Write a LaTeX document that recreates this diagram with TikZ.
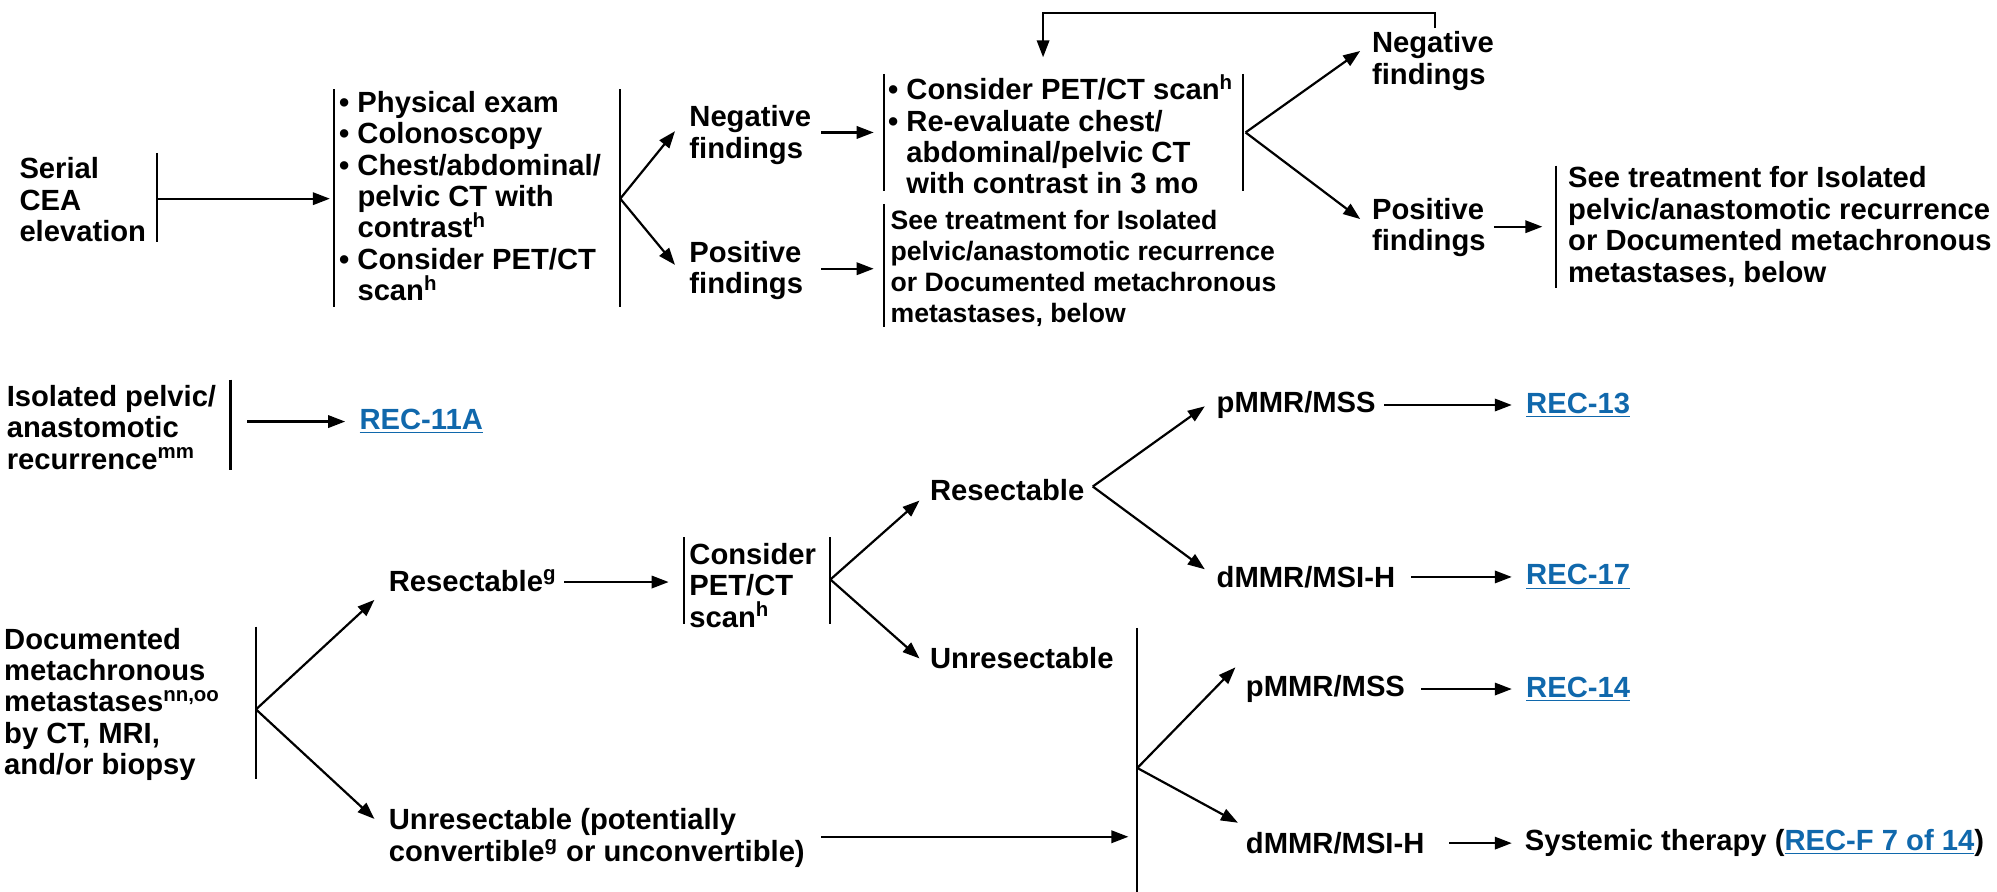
\documentclass[tikz,border=0pt]{standalone}
\usepackage{fontspec}
\setmainfont{Liberation Sans}
\usetikzlibrary{arrows.meta}
\definecolor{linkblue}{RGB}{16,104,172}
\newcommand{\lnk}[1]{\textcolor{linkblue}{\underline{#1}}}
\newcommand{\ind}{\hphantom{•\ }}
\begin{document}
\begin{tikzpicture}[x=0.6368pt,y=-0.6368pt,
  txt/.style={inner sep=0pt,anchor=west,align=left,font=\fontsize{14.6}{15.7}\selectfont\bfseries},
  smalltxt/.style={txt,font=\fontsize{13.3}{15.5}\selectfont\bfseries},
  arr/.style={-{Triangle[length=8.5pt,width=6.2pt]},line width=1.1pt},
  vbar/.style={line width=1.1pt}]
\useasboundingbox (0,0) rectangle (1568,700);

% ---------- top section ----------
\node[txt] (serial) at (15,157) {Serial\\CEA\\elevation};
\draw[vbar] (123,120) -- (123,190);
\coordinate (serialbar) at (123,156);
\coordinate (box1in) at (259,156);
\draw[arr] (serialbar) -- (box1in);

\node[txt] (box1) at (266,154) {• Physical exam\\• Colonoscopy\\• Chest/abdominal/\\\ind pelvic CT with\\\ind contrast\textsuperscript{h}\\• Consider PET/CT\\\ind scan\textsuperscript{h}};
\draw[vbar] (262,70) -- (262,241);
\draw[vbar] (487,70) -- (487,241);
\coordinate (f1) at (487,156);

\node[txt] (neg1) at (541,106) {Negative\\findings};
\node[txt] (pos1) at (541,212.5) {Positive\\findings};
\coordinate (neg1in) at (530,103);
\coordinate (pos1in) at (530,208);
\draw[arr] (f1) -- (neg1in);
\draw[arr] (f1) -- (pos1in);

\node[txt] (box2) at (697,105.5) {• Consider PET/CT scan\textsuperscript{h}\\• Re-evaluate chest/\\\ind abdominal/pelvic CT\\\ind with contrast in 3 mo};
\draw[vbar] (694,58) -- (694,150);
\draw[vbar] (976,58) -- (976,150);
\coordinate (neg1out) at (645,104);
\coordinate (box2in) at (686,104);
\draw[arr] (neg1out) -- (box2in);

\node[smalltxt] (see1) at (699,210.5) {See treatment for Isolated\\pelvic/anastomotic recurrence\\or Documented metachronous\\metastases, below};
\draw[vbar] (694,160) -- (694,257);
\coordinate (pos1out) at (645,211);
\coordinate (see1in) at (686,211);
\draw[arr] (pos1out) -- (see1in);

\coordinate (f2) at (978,104);
\node[txt] (neg2) at (1077,48) {Negative\\findings};
\node[txt] (pos2) at (1077,178.5) {Positive\\findings};
\coordinate (neg2in) at (1068,40);
\coordinate (pos2in) at (1068,172);
\draw[arr] (f2) -- (neg2in);
\draw[arr] (f2) -- (pos2in);

\coordinate (loopstart) at (1127,22);
\coordinate (box2top) at (819,45);
\draw[arr] (loopstart) -- (1127,10) -- (819,10) -- (box2top);

\node[txt] (see2) at (1231,178) {See treatment for Isolated\\pelvic/anastomotic recurrence\\or Documented metachronous\\metastases, below};
\draw[vbar] (1222,130) -- (1222,226);
\coordinate (pos2out) at (1173,178);
\coordinate (see2in) at (1211,178);
\draw[arr] (pos2out) -- (see2in);

% ---------- isolated ----------
\node[txt] (iso) at (5,335.5) {Isolated pelvic/\\anastomotic\\recurrence\textsuperscript{mm}};
\draw[vbar] (181,298) -- (181,369);
\node[txt] (rec11a) at (282,331) {\lnk{REC-11A}};
\coordinate (isoout) at (194,331);
\coordinate (rec11ain) at (271,331);
\draw[arr] (isoout) -- (rec11ain);

% ---------- documented ----------
\node[txt] (doc) at (3,553) {Documented\\metachronous\\metastases\textsuperscript{nn,oo}\\by CT, MRI,\\and/or biopsy};
\draw[vbar] (201,492) -- (201,612);
\coordinate (f3) at (201,557);
\node[txt] (res1) at (305,456) {Resectable\textsuperscript{g}};
\node[txt] (unres2) at (305,658) {Unresectable (potentially\\convertible\textsuperscript{g} or unconvertible)};
\coordinate (res1in) at (294,471);
\coordinate (unres2in) at (294,643);
\draw[arr] (f3) -- (res1in);
\draw[arr] (f3) -- (unres2in);

\node[txt] (cons) at (541,459.5) {Consider\\PET/CT\\scan\textsuperscript{h}};
\draw[vbar] (537,422) -- (537,490);
\draw[vbar] (652,422) -- (652,490);
\coordinate (res1out) at (443,457);
\coordinate (consin) at (525,457);
\draw[arr] (res1out) -- (consin);

\coordinate (f4) at (652,455);
\node[txt] (res2) at (730,385) {Resectable};
\node[txt] (unres) at (730,517) {Unresectable};
\coordinate (res2in) at (722,393);
\coordinate (unresin) at (722,517);
\draw[arr] (f4) -- (res2in);
\draw[arr] (f4) -- (unresin);

\coordinate (f5) at (858,382);
\node[txt] (p1) at (955,318) {pMMR/MSS};
\node[txt] (d1) at (955,453) {dMMR/MSI-H};
\coordinate (p1in) at (946,319);
\coordinate (d1in) at (946,447);
\draw[arr] (f5) -- (p1in);
\draw[arr] (f5) -- (d1in);

\node[txt] (rec13) at (1198,318) {\lnk{REC-13}};
\node[txt] (rec17) at (1198,453) {\lnk{REC-17}};
\coordinate (p1out) at (1087,318);
\coordinate (rec13in) at (1187,318);
\coordinate (d1out) at (1108,453);
\coordinate (rec17in) at (1187,453);
\draw[arr] (p1out) -- (rec13in);
\draw[arr] (d1out) -- (rec17in);

% big bar
\draw[vbar] (893,493) -- (893,700);
\coordinate (f6) at (893,603);
\coordinate (bigin) at (886,657);
\coordinate (unres2out) at (645,657);
\draw[arr] (unres2out) -- (bigin);

\node[txt] (p2) at (978,541) {pMMR/MSS};
\node[txt] (d2) at (978,662) {dMMR/MSI-H};
\coordinate (p2in) at (970,524);
\coordinate (d2in) at (972,646);
\draw[arr] (f6) -- (p2in);
\draw[arr] (f6) -- (d2in);

\node[txt] (rec14) at (1198,541) {\lnk{REC-14}};
\node[txt] (sys) at (1197,662) {Systemic therapy (\lnk{REC-F 7 of 14})};
\coordinate (p2out) at (1116,541);
\coordinate (rec14in) at (1187,541);
\coordinate (d2out) at (1138,662);
\coordinate (sysin) at (1187,662);
\draw[arr] (p2out) -- (rec14in);
\draw[arr] (d2out) -- (sysin);
\end{tikzpicture}
\end{document}
